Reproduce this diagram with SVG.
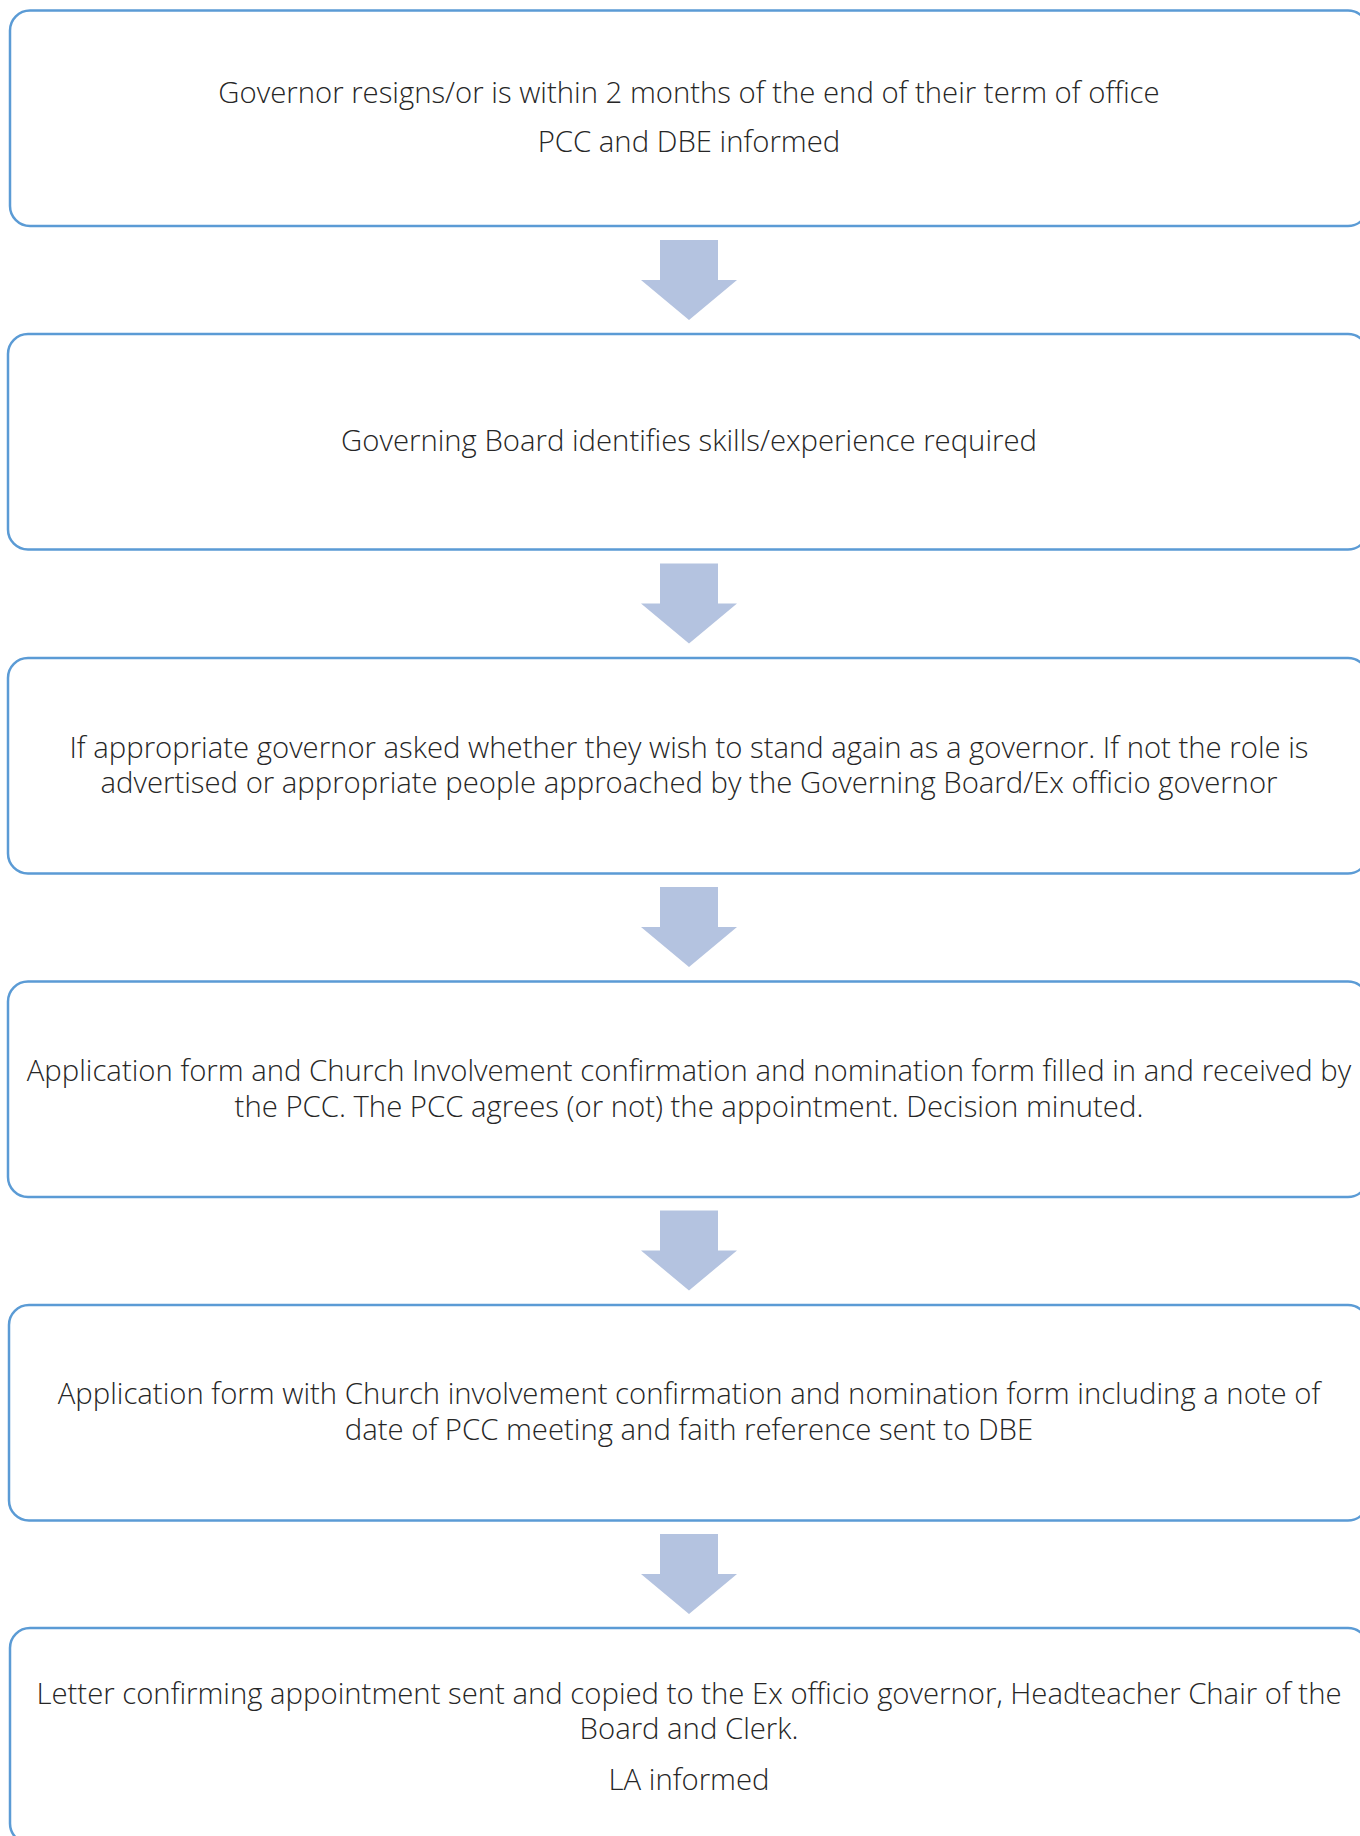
<svg xmlns="http://www.w3.org/2000/svg" width="1360" height="1836" viewBox="0 0 1360 1836">
<style>
.box{fill:#ffffff;stroke:#5b9bd5;stroke-width:2.5}
.arr{fill:#b4c3e0}
.t{font-family:"Open Sans","Liberation Sans",sans-serif;font-weight:300;font-size:29.3px;fill:#262626;text-anchor:middle}
</style>
<rect width="1360" height="1836" fill="#ffffff"/>
<g id="connectors">
<path class="arr" d="M660,240 H718 V280 H737 L689,320 L641,280 H660 Z"/>
<path class="arr" d="M660,563.5 H718 V603.5 H737 L689,643.5 L641,603.5 H660 Z"/>
<path class="arr" d="M660,887 H718 V927 H737 L689,967 L641,927 H660 Z"/>
<path class="arr" d="M660,1210.5 H718 V1250.5 H737 L689,1290.5 L641,1250.5 H660 Z"/>
<path class="arr" d="M660,1534 H718 V1574 H737 L689,1614 L641,1574 H660 Z"/>
</g>
<g id="node1">
<rect class="box" x="10" y="10.5" width="1358" height="215.5" rx="20"/>
<text class="t" x="689" y="102.5">Governor resigns/or is within 2 months of the end of their term of office</text>
<text class="t" x="689" y="152">PCC and DBE informed</text>
</g>
<g id="node2">
<rect class="box" x="8" y="334" width="1360" height="215.5" rx="20"/>
<text class="t" x="689" y="450.5">Governing Board identifies skills/experience required</text>
</g>
<g id="node3">
<rect class="box" x="8" y="658" width="1360" height="215.5" rx="20"/>
<text class="t" x="689" y="757.5">If appropriate governor asked whether they wish to stand again as a governor. If not the role is</text>
<text class="t" x="689" y="792.5">advertised or appropriate people approached by the Governing Board/Ex officio governor</text>
</g>
<g id="node4">
<rect class="box" x="8" y="981.5" width="1360" height="215.5" rx="20"/>
<text class="t" x="689" y="1081">Application form and Church Involvement confirmation and nomination form filled in and received by</text>
<text class="t" x="689" y="1117">the PCC. The PCC agrees (or not) the appointment. Decision minuted.</text>
</g>
<g id="node5">
<rect class="box" x="9" y="1305" width="1359" height="215.5" rx="20"/>
<text class="t" x="689" y="1404">Application form with Church involvement confirmation and nomination form including a note of</text>
<text class="t" x="689" y="1440">date of PCC meeting and faith reference sent to DBE</text>
</g>
<g id="node6">
<rect class="box" x="10" y="1628" width="1358" height="215.5" rx="20"/>
<text class="t" x="689" y="1704">Letter confirming appointment sent and copied to the Ex officio governor, Headteacher Chair of the</text>
<text class="t" x="689" y="1739">Board and Clerk.</text>
<text class="t" x="689" y="1789.5">LA informed</text>
</g>
</svg>
